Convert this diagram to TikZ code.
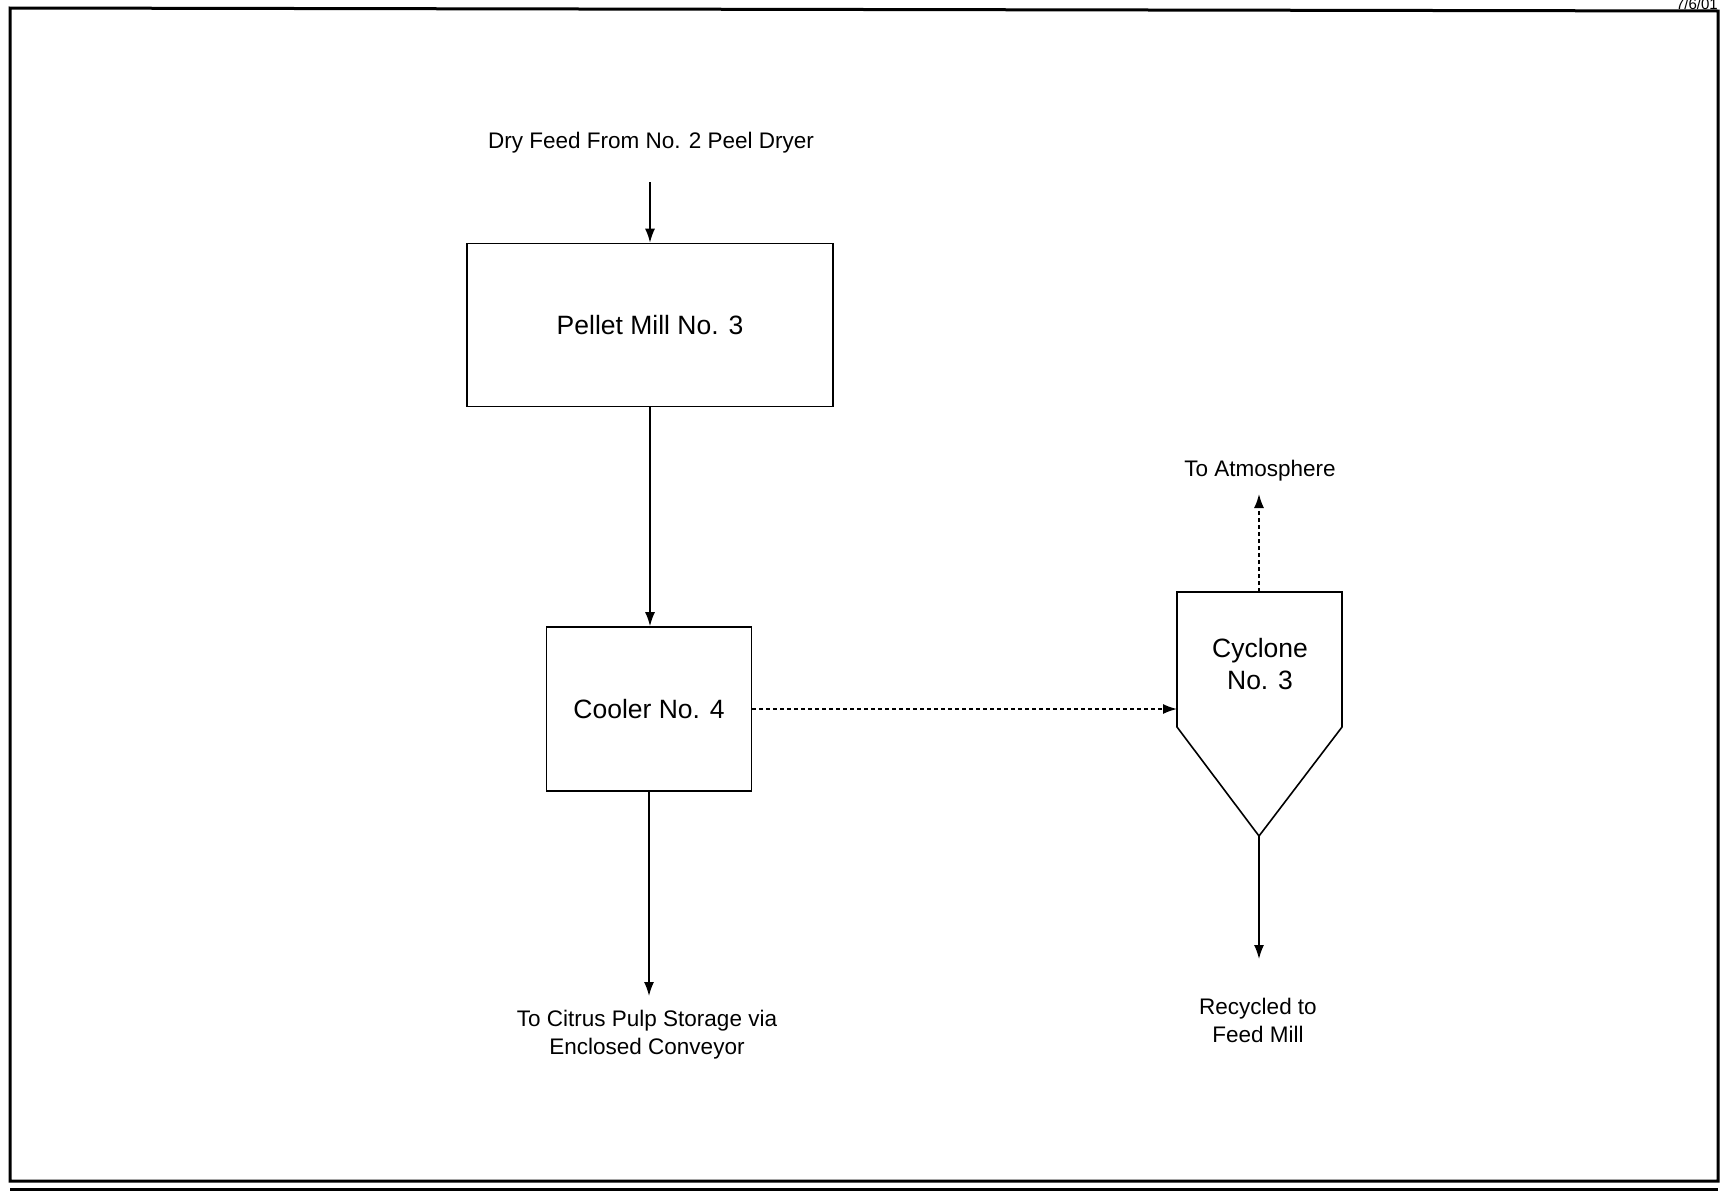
\documentclass[tikz,border=0pt]{standalone}
\usepackage{fontspec}
\setmainfont{Liberation Sans}
\usetikzlibrary{arrows.meta}
\begin{document}
\begin{tikzpicture}[x=1pt,y=-1pt,
  box/.style={draw,line width=1.6pt,minimum width=0pt},
  lbl/.style={font=\fontsize{22.5}{28}\selectfont,align=center},
  boxtxt/.style={font=\fontsize{26.5}{32}\selectfont,align=center},
  flow/.style={line width=1.6pt,-{Latex[length=14pt,width=10pt]}},
  dflow/.style={flow,dash pattern=on 4pt off 3pt}]
\useasboundingbox (0,0) rectangle (1720,1194);
% frame
\draw[line width=3pt] (10,1181) -- (10,8) -- (1718,11) -- (1718,1181) -- cycle;
\draw[line width=3pt] (10,1189) -- (1718,1189);
\node[anchor=base east,inner sep=0pt,font=\fontsize{15}{17}\selectfont] (date) at (1718,9) {7/6/01};
% nodes
\node[box,minimum width=366pt,minimum height=163pt] (pellet) at (650,325) {};
\node[boxtxt] (pellettxt) at (pellet.center) {Pellet Mill No. 3};
\node[box,minimum width=205pt,minimum height=164pt] (cooler) at (649,709) {};
\node[boxtxt] (coolertxt) at (cooler.center) {Cooler No. 4};
% cyclone
\coordinate (cyTL) at (1177,592);
\coordinate (cyTR) at (1342,592);
\coordinate (cyR) at (1342,727);
\coordinate (cyL) at (1177,727);
\coordinate (cyTip) at (1259,836);
\coordinate (cyTop) at (1259,592);
\draw[line width=1.6pt,line join=miter] (cyTL) -- (cyTR) -- (cyR) -- (cyTip) -- (cyL) -- cycle;
\node[boxtxt] (cytxt) at (1260,664) {Cyclone\\No. 3};
% labels
\node[lbl] (feed) at (651,143) {Dry Feed From No. 2 Peel Dryer};
\node[lbl] (storage) at (647,1035) {To Citrus Pulp Storage via\\Enclosed Conveyor};
\node[lbl] (atm) at (1260,471) {To Atmosphere};
\node[lbl] (recyc) at (1258,1020) {Recycled to\\Feed Mill};
\coordinate (feedEnd) at (650,182);
\coordinate (storEnd) at (649,996);
\coordinate (atmEnd) at (1259,494);
\coordinate (recEnd) at (1259,959);
% connectors
\draw[flow] (feedEnd) -- (pellet.north);
\draw[flow] (pellet.south) -- (pellet.south |- cooler.north);
\draw[flow] (cooler.south) -- (storEnd);
\draw[dflow] (cooler.east) -- (cooler.east -| cyTL);
\draw[dflow] (cyTop) -- (atmEnd);
\draw[flow] (cyTip) -- (recEnd);
\end{tikzpicture}
\end{document}
